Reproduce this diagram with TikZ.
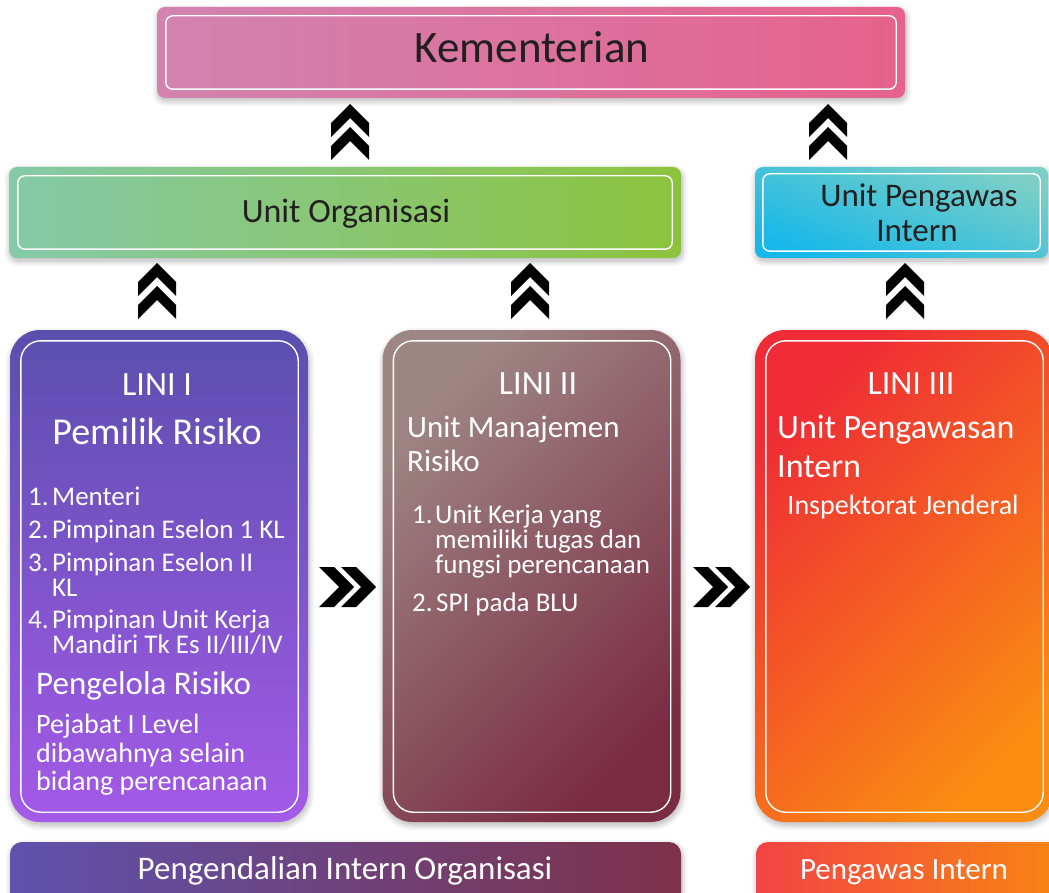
\documentclass[tikz,border=0pt]{standalone}
\usepackage{fontspec}
\setmainfont{Carlito}
\usetikzlibrary{shadows.blur}
\definecolor{kemL}{HTML}{D283B0}
\definecolor{kemR}{HTML}{E5628C}
\definecolor{orgL}{HTML}{85CAA8}
\definecolor{orgR}{HTML}{8CC33C}
\definecolor{upiT}{HTML}{7CCFC6}
\definecolor{upiB}{HTML}{16B8EA}
\definecolor{l1T}{HTML}{5A4FAE}
\definecolor{l1B}{HTML}{A45AE8}
\definecolor{l2T}{HTML}{9E8684}
\definecolor{l2B}{HTML}{7A2C43}
\definecolor{l3T}{HTML}{EF2C35}
\definecolor{l3B}{HTML}{FA8C12}
\definecolor{b1L}{HTML}{5E52AE}
\definecolor{b1R}{HTML}{7E3248}
\definecolor{b2L}{HTML}{F24444}
\definecolor{b2R}{HTML}{F98512}
\definecolor{ink}{HTML}{231F20}
\begin{document}
\begin{tikzpicture}[x=1pt,y=-1pt,
  boxshadow/.style={blur shadow={shadow blur steps=10, shadow xshift=1pt, shadow yshift=-3pt, shadow blur radius=6pt, shadow opacity=30}},
  flatbox/.style={boxshadow, rounded corners=8pt, inner sep=0pt},
  linibox/.style={boxshadow, rounded corners=30pt, inner sep=0pt, minimum width=298pt, minimum height=492pt},
  frame/.style={draw=white, line width=1.4pt},
  dark/.style={text=ink, inner sep=0pt},
  wt/.style={text=white, inner sep=0pt},
  fA/.style={font=\fontsize{45}{54}\selectfont},
  fB/.style={font=\fontsize{34}{40}\selectfont},
  fC/.style={font=\fontsize{38}{44}\selectfont},
  fD/.style={font=\fontsize{27}{32}\selectfont, text height=17pt, text depth=5pt},
  fE/.style={font=\fontsize{28}{33}\selectfont},
  upchev/.pic={
    \fill[black] (0,0) -- (19,19) -- (19,33) -- (0,14) -- (-19,33) -- (-19,19) -- cycle;
    \fill[black] (0,23) -- (19,42) -- (19,56) -- (0,37) -- (-19,56) -- (-19,42) -- cycle;
  },
  rightchev/.pic={
    \fill[black] (0,0) -- (15,0) -- (35,20) -- (15,40) -- (0,40) -- (20,20) -- cycle;
    \fill[black] (22,0) -- (37,0) -- (57,20) -- (37,40) -- (22,40) -- (42,20) -- cycle;
  }
]
\useasboundingbox (0,0) rectangle (1049,893);
\clip (0,0) rectangle (1049,893);

% ---- top box
\node[flatbox, minimum width=748pt, minimum height=91pt, left color=kemL, right color=kemR] (kem) at (531,52.5) {};
\draw[frame, rounded corners=7pt] ([xshift=9pt,yshift=-9pt]kem.north west) rectangle ([xshift=-9pt,yshift=9pt]kem.south east);
\node[dark, fA, anchor=base] (kemT) at (532,63) {Kementerian};

% ---- second row
\node[flatbox, minimum width=672pt, minimum height=91pt, left color=orgL, right color=orgR] (org) at (345,212.5) {};
\draw[frame, rounded corners=7pt] ([xshift=9pt,yshift=-9pt]org.north west) rectangle ([xshift=-9pt,yshift=9pt]org.south east);
\node[dark, fB, anchor=base] (orgT) at (346,223) {Unit Organisasi};

\node[flatbox, minimum width=293pt, minimum height=91pt, top color=upiT, bottom color=upiB, shading angle=-20] (upi) at (901.5,212.5) {};
\draw[frame, rounded corners=7pt] ([xshift=8pt,yshift=-7pt]upi.north west) rectangle ([xshift=-8pt,yshift=7pt]upi.south east);
\node[dark, font=\fontsize{33}{38}\selectfont, anchor=base] (upiT1) at (919,207) {Unit Pengawas};
\node[dark, font=\fontsize{33}{38}\selectfont, anchor=base] (upiT2) at (917,242) {Intern};

% ---- LINI boxes
\node[linibox, top color=l1T, bottom color=l1B] (l1) at (159,576) {};
\draw[frame, rounded corners=20pt] ([xshift=11pt,yshift=-11pt]l1.north west) rectangle ([xshift=-10pt,yshift=10pt]l1.south east);
\node[linibox, top color=l2T, bottom color=l2B, shading angle=45] (l2) at (531.5,576) {};
\draw[frame, rounded corners=20pt] ([xshift=11pt,yshift=-11pt]l2.north west) rectangle ([xshift=-10pt,yshift=10pt]l2.south east);
\node[linibox, top color=l3T, bottom color=l3B, shading angle=45] (l3) at (904,576) {};
\draw[frame, rounded corners=20pt] ([xshift=11pt,yshift=-11pt]l3.north west) rectangle ([xshift=-10pt,yshift=10pt]l3.south east);

% LINI I text
\node[wt, fB, anchor=base] (l1a) at (157,395) {LINI I};
\node[wt, fC, anchor=base] (l1b) at (157,444) {Pemilik Risiko};
\node[wt, fD, anchor=base west] (l1n1) at (28,505) {1.};
\node[wt, fD, anchor=base west] (l1i1) at (52,505) {Menteri};
\node[wt, fD, anchor=base west] (l1n2) at (28,538) {2.};
\node[wt, fD, anchor=base west] (l1i2) at (52,538) {Pimpinan Eselon 1 KL};
\node[wt, fD, anchor=base west] (l1n3) at (28,571) {3.};
\node[wt, fD, anchor=base west] (l1i3) at (52,571) {Pimpinan Eselon II};
\node[wt, fD, anchor=base west] (l1i3b) at (52,596) {KL};
\node[wt, fD, anchor=base west] (l1n4) at (28,628) {4.};
\node[wt, fD, anchor=base west] (l1i4) at (52,628) {Pimpinan Unit Kerja};
\node[wt, fD, anchor=base west] (l1i4b) at (52,653) {Mandiri Tk Es II/III/IV};
\node[wt, font=\fontsize{33}{38}\selectfont, anchor=base west] (l1c) at (36,694) {Pengelola Risiko};
\node[wt, fE, anchor=base west] (l1d1) at (36,733) {Pejabat I Level};
\node[wt, fE, anchor=base west] (l1d2) at (36,762) {dibawahnya selain};
\node[wt, fE, anchor=base west] (l1d3) at (36,790) {bidang perencanaan};

% LINI II text
\node[wt, fB, anchor=base] (l2a) at (538,394) {LINI II};
\node[wt, font=\fontsize{31}{36}\selectfont, anchor=base west] (l2b1) at (407,437) {Unit Manajemen};
\node[wt, font=\fontsize{31}{36}\selectfont, anchor=base west] (l2b2) at (407,471) {Risiko};
\node[wt, fD, anchor=base west] (l2n1) at (412,523) {1.};
\node[wt, fD, anchor=base west] (l2i1) at (435,523) {Unit Kerja yang};
\node[wt, fD, anchor=base west] (l2i1b) at (435,548) {memiliki tugas dan};
\node[wt, fD, anchor=base west] (l2i1c) at (435,573) {fungsi perencanaan};
\node[wt, fD, anchor=base west] (l2n2) at (412,611) {2.};
\node[wt, fD, anchor=base west] (l2i2) at (436,611) {SPI pada BLU};

% LINI III text
\node[wt, fB, anchor=base] (l3a) at (911,394) {LINI III};
\node[wt, fB, anchor=base west] (l3b1) at (777,438) {Unit Pengawasan};
\node[wt, fB, anchor=base west] (l3b2) at (777,477) {Intern};
\node[wt, fE, anchor=base] (l3c) at (903,514) {Inspektorat Jenderal};

% ---- bottom bars
\node[flatbox, rounded corners=12pt, minimum width=671pt, minimum height=90pt, left color=b1L, right color=b1R] (bar1) at (345.5,887) {};
\node[wt, font=\fontsize{33}{38}\selectfont, anchor=base] (bar1T) at (345,879) {Pengendalian Intern Organisasi};
\node[flatbox, rounded corners=12pt, minimum width=306pt, minimum height=90pt, left color=b2L, right color=b2R] (bar2) at (909,887) {};
\node[wt, font=\fontsize{31}{36}\selectfont, anchor=base] (bar2T) at (904,879) {Pengawas Intern};

% ---- chevrons
\pic (c1) at (350,104) {upchev};
\pic (c2) at (828,104) {upchev};
\pic (c3) at (157,263) {upchev};
\pic (c4) at (530,263) {upchev};
\pic (c5) at (905,263) {upchev};
\pic (c6) at (319,567) {rightchev};
\pic (c7) at (693,567) {rightchev};
\end{tikzpicture}
\end{document}
